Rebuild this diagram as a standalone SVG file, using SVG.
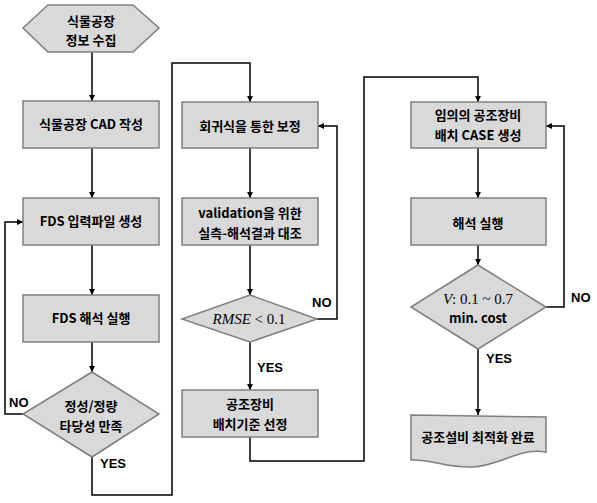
<svg xmlns="http://www.w3.org/2000/svg" width="597" height="503" viewBox="0 0 597 503">
<defs>
<marker id="ah" viewBox="0 0 10 10" refX="10" refY="5" markerWidth="6" markerHeight="6" markerUnits="userSpaceOnUse" orient="auto">
<path d="M0,0 L10,5 L0,10 Z" fill="#000"/>
</marker>
<style>
.shape{fill:#d9d9d9;stroke:#7f7f7f;stroke-width:1.5}
.t{font-family:"Noto Sans CJK KR","Liberation Sans",sans-serif;font-weight:bold;font-size:13px;fill:#000;text-anchor:middle}
.lbl{font-family:"Liberation Sans Narrow","Liberation Sans",sans-serif;font-weight:bold;font-size:13px;fill:#000}
.m{font-family:"Liberation Serif",serif;font-size:15px;fill:#000;text-anchor:middle}
.c{fill:none;stroke:#000;stroke-width:1.5}
.ca{fill:none;stroke:#000;stroke-width:1.5;marker-end:url(#ah)}
</style>
</defs>
<rect width="597" height="503" fill="#fff"/>

<g id="connectors">
<path class="ca" d="M92,52 L92,101"/>
<path class="ca" d="M92,148 L92,198"/>
<path class="ca" d="M92,245 L92,295"/>
<path class="ca" d="M92,342 L92,372"/>
<path class="ca" d="M23,414 L5,414 L5,222 L23,222"/>
<path class="ca" d="M92,457 L92,495 L172,495 L172,63 L250,63 L250,102"/>
<path class="ca" d="M250,148 L250,198"/>
<path class="ca" d="M250,245 L250,295"/>
<path class="ca" d="M317,319 L337,319 L337,126 L318,126"/>
<path class="ca" d="M250,342 L250,390"/>
<path class="ca" d="M250,437 L250,461 L364,461 L364,77 L478,77 L478,102"/>
<path class="ca" d="M478,148 L478,198"/>
<path class="ca" d="M478,245 L478,265"/>
<path class="ca" d="M546,307 L564,307 L564,126 L546,126"/>
<path class="ca" d="M478,349 L478,415"/>
<text class="lbl" x="9" y="407">NO</text>
<text class="lbl" x="100" y="468">YES</text>
<text class="lbl" x="312" y="307">NO</text>
<text class="lbl" x="257" y="372">YES</text>
<text class="lbl" x="571" y="302">NO</text>
<text class="lbl" x="486" y="363">YES</text>
</g>

<g id="n1">
<polygon class="shape" points="23,28 48,5 133,5 159,28 133,52 48,52"/>
<text class="t" x="91" y="26">식물공장</text>
<text class="t" x="91" y="45">정보 수집</text>
</g>
<g id="n2">
<rect class="shape" x="23" y="101" width="136" height="47"/>
<text class="t" x="91" y="129">식물공장 CAD 작성</text>
</g>
<g id="n3">
<rect class="shape" x="23" y="198" width="136" height="47"/>
<text class="t" x="91" y="226">FDS 입력파일 생성</text>
</g>
<g id="n4">
<rect class="shape" x="23" y="295" width="136" height="47"/>
<text class="t" x="91" y="323">FDS 해석 실행</text>
</g>
<g id="n5">
<polygon class="shape" points="92,372 159,414 92,457 23,414"/>
<text class="t" x="91" y="411">정성/정량</text>
<text class="t" x="91" y="431">타당성 만족</text>
</g>

<g id="n6">
<rect class="shape" x="182" y="102" width="136" height="46"/>
<text class="t" x="250" y="131">회귀식을 통한 보정</text>
</g>
<g id="n7">
<rect class="shape" x="182" y="198" width="136" height="47"/>
<text class="t" x="250" y="218">validation을 위한</text>
<text class="t" x="250" y="238">실측-해석결과 대조</text>
</g>
<g id="n8">
<polygon class="shape" points="250,295 317,319 250,342 182,319"/>
<text class="m" x="249" y="324"><tspan font-style="italic">RMSE</tspan> &lt; 0.1</text>
</g>
<g id="n9">
<rect class="shape" x="182" y="390" width="136" height="47"/>
<text class="t" x="250" y="409">공조장비</text>
<text class="t" x="250" y="429">배치기준 선정</text>
</g>

<g id="n10">
<rect class="shape" x="411" y="102" width="135" height="46"/>
<text class="t" x="478" y="120">임의의 공조장비</text>
<text class="t" x="478" y="140">배치 CASE 생성</text>
</g>
<g id="n11">
<rect class="shape" x="411" y="198" width="135" height="47"/>
<text class="t" x="478" y="228">해석 실행</text>
</g>
<g id="n12">
<polygon class="shape" points="478,265 546,307 478,349 411,307"/>
<text class="m" x="478" y="304"><tspan font-style="italic">V</tspan>: 0.1 ~ 0.7</text>
<text class="t" x="478" y="323">min. cost</text>
</g>
<g id="n13">
<path class="shape" d="M411,415 L546,417 L546,452 C520,447 500,466 472,467 C448,468 430,459 411,460 Z"/>
<text class="t" x="478" y="442">공조설비 최적화 완료</text>
</g>
</svg>
